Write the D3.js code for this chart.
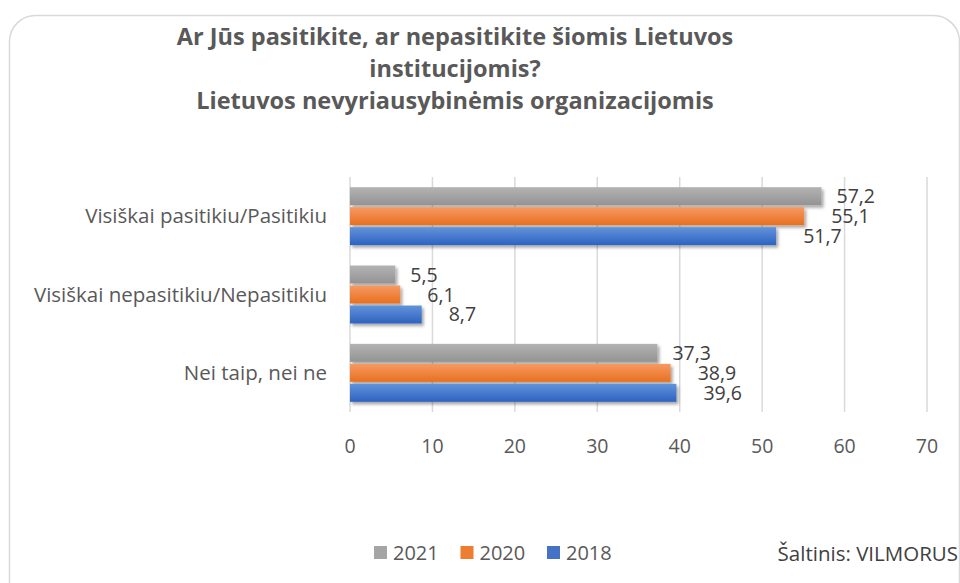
<!DOCTYPE html>
<html>
<head>
<meta charset="utf-8">
<script src="https://cdn.jsdelivr.net/npm/d3@7"></script>
<style>
  body { margin: 0; background: #fff; }
  text { font-family: "Open Sans", "Noto Sans", sans-serif; }
</style>
</head>
<body>
<div id="chart"></div>
<script>
// data
const categories = ['Visiškai pasitikiu/Pasitikiu', 'Visiškai nepasitikiu/Nepasitikiu', 'Nei taip, nei ne'];
const years = ['2021', '2020', '2018'];
const values2021 = [57.2, 5.5, 37.3];
const values2020 = [55.1, 6.1, 38.9];
const values2018 = [51.7, 8.7, 39.6];
const xTicks = [0, 10, 20, 30, 40, 50, 60, 70];
const titleLines = ['Ar Jūs pasitikite, ar nepasitikite šiomis Lietuvos', 'institucijomis?', 'Lietuvos nevyriausybinėmis organizacijomis'];
const sourceText = 'Šaltinis: VILMORUS';

const seriesValues = { '2021': values2021, '2020': values2020, '2018': values2018 };
const seriesStyle = {
  '2021': { top: '#b3b3b3', bottom: '#939393', legend: '#a5a5a5', labelDx: 15 },
  '2020': { top: '#f69a62', bottom: '#e8701f', legend: '#ed7d31', labelDx: 27 },
  '2018': { top: '#6293dc', bottom: '#2e62c0', legend: '#4472c4', labelDx: 27 }
};

const width = 960, height = 583;
const svg = d3.select('#chart').append('svg')
  .attr('width', width)
  .attr('height', height);

const defs = svg.append('defs');
years.forEach(y => {
  const g = defs.append('linearGradient')
    .attr('id', 'grad' + y)
    .attr('x1', 0).attr('y1', 0).attr('x2', 0).attr('y2', 1);
  g.append('stop').attr('offset', '0%').attr('stop-color', seriesStyle[y].top);
  g.append('stop').attr('offset', '100%').attr('stop-color', seriesStyle[y].bottom);
});
const shadow = defs.append('filter').attr('id', 'shadow')
  .attr('x', '-5%').attr('y', '-30%').attr('width', '115%').attr('height', '170%');
shadow.append('feDropShadow')
  .attr('dx', 2).attr('dy', 2.5).attr('stdDeviation', 1.8)
  .attr('flood-color', '#000').attr('flood-opacity', 0.35);

// frame
svg.append('rect')
  .attr('x', 9.5).attr('y', 15.5)
  .attr('width', 950).attr('height', 620)
  .attr('rx', 26)
  .attr('fill', '#fff')
  .attr('stroke', '#d9d9d9')
  .attr('stroke-width', 1.5);

// title
svg.append('g').selectAll('text')
  .data(titleLines)
  .enter().append('text')
  .attr('x', 455)
  .attr('y', (d, i) => 45 + i * 32)
  .attr('text-anchor', 'middle')
  .attr('font-size', 23.5)
  .attr('font-weight', 'bold')
  .attr('fill', '#595959')
  .text(d => d);

const x = d3.scaleLinear().domain([0, 70]).range([350, 927]);
const y0 = d3.scaleBand().domain(categories).range([177, 412])
  .paddingInner(0.26).paddingOuter(0.13);
const y1 = d3.scaleBand().domain(years).range([0, y0.bandwidth()]).paddingInner(0.1);

// grid
svg.append('g').selectAll('line')
  .data(xTicks)
  .enter().append('line')
  .attr('x1', d => x(d)).attr('x2', d => x(d))
  .attr('y1', 177).attr('y2', 412)
  .attr('stroke', '#d9d9d9')
  .attr('stroke-width', 1.5);

// x tick labels
svg.append('g').selectAll('text')
  .data(xTicks)
  .enter().append('text')
  .attr('x', d => x(d))
  .attr('y', 453)
  .attr('text-anchor', 'middle')
  .attr('font-size', 19.5)
  .attr('fill', '#595959')
  .text(d => d);

// category labels
svg.append('g').selectAll('text')
  .data(categories)
  .enter().append('text')
  .attr('x', 327)
  .attr('y', d => y0(d) + y0.bandwidth() / 2 + 7)
  .attr('text-anchor', 'end')
  .attr('font-size', 20.5)
  .attr('fill', '#595959')
  .text(d => d);

// bars
const rows = [];
categories.forEach((c, ci) => {
  years.forEach(yr => rows.push({ cat: c, year: yr, value: seriesValues[yr][ci] }));
});

const bars = svg.append('g');
bars.selectAll('rect')
  .data(rows)
  .enter().append('rect')
  .attr('x', x(0))
  .attr('y', d => y0(d.cat) + y1(d.year))
  .attr('width', d => x(d.value) - x(0))
  .attr('height', y1.bandwidth())
  .attr('fill', d => 'url(#grad' + d.year + ')')
  .attr('filter', 'url(#shadow)');

bars.selectAll('text')
  .data(rows)
  .enter().append('text')
  .attr('x', d => x(d.value) + seriesStyle[d.year].labelDx)
  .attr('y', d => y0(d.cat) + y1(d.year) + y1.bandwidth() / 2 + 7)
  .attr('font-size', 19.5)
  .attr('fill', '#404040')
  .text(d => String(d.value).replace('.', ','));

// legend
const legend = svg.append('g').selectAll('g')
  .data(years)
  .enter().append('g')
  .attr('transform', (d, i) => 'translate(' + (374 + i * 86.5) + ',546)');
legend.append('rect')
  .attr('width', 13).attr('height', 13)
  .attr('fill', d => seriesStyle[d].legend);
legend.append('text')
  .attr('x', 19).attr('y', 14)
  .attr('font-size', 20)
  .attr('fill', '#595959')
  .text(d => d);

// source
svg.append('text')
  .attr('x', 958)
  .attr('y', 561)
  .attr('text-anchor', 'end')
  .attr('font-size', 20.5)
  .attr('fill', '#404040')
  .text(sourceText);
</script>
</body>
</html>
